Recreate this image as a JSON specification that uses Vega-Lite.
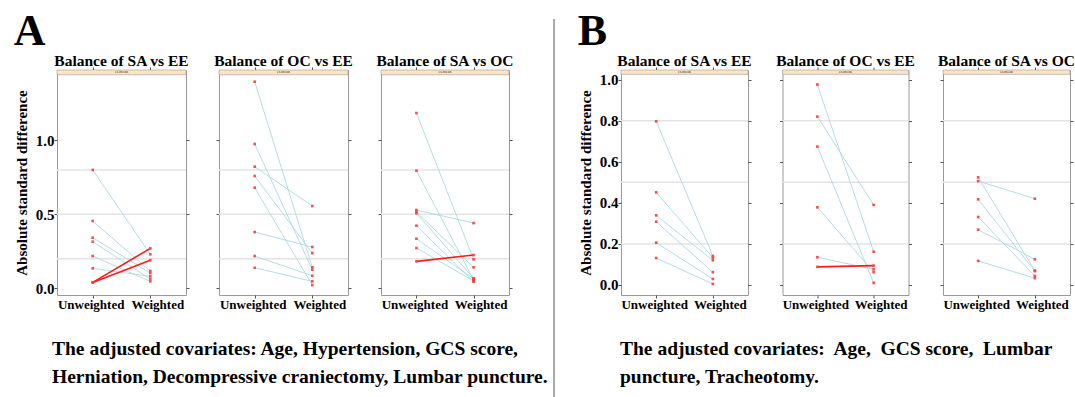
{
  "$schema": "https://vega.github.io/schema/vega-lite/v6.json",
  "background": "white",
  "padding": {"left": 13, "top": 9, "right": 0, "bottom": 0},
  "config": {
    "font": "Liberation Serif",
    "view": {"stroke": "#9a9a9a", "strokeWidth": 1},
    "style": {"guide-label": {"font": "Liberation Serif", "fontWeight": "bold"}, "guide-title": {"font": "Liberation Serif", "fontWeight": "bold"}},
    "axis": {"domain": false, "grid": false, "minExtent": 0, "tickColor": "#555555", "tickSize": 3, "labelFont": "Liberation Serif", "labelFontWeight": "bold", "labelFontSize": 15, "labelColor": "#000000", "titleFont": "Liberation Serif", "titleFontWeight": "bold", "titleFontSize": 15, "titleColor": "#000000"},
    "title": {"font": "Liberation Serif", "fontWeight": "bold", "color": "#000000"}
  },
  "datasets": {
    "asd": [
      {"panel": "A1", "covariate": "Age", "weighting": "Unweighted", "asd": 0.80, "trend": "decreased"},
      {"panel": "A1", "covariate": "Age", "weighting": "Weighted", "asd": 0.23, "trend": "decreased"},
      {"panel": "A1", "covariate": "Hypertension", "weighting": "Unweighted", "asd": 0.455, "trend": "decreased"},
      {"panel": "A1", "covariate": "Hypertension", "weighting": "Weighted", "asd": 0.117, "trend": "decreased"},
      {"panel": "A1", "covariate": "GCS 3-8", "weighting": "Unweighted", "asd": 0.342, "trend": "decreased"},
      {"panel": "A1", "covariate": "GCS 3-8", "weighting": "Weighted", "asd": 0.103, "trend": "decreased"},
      {"panel": "A1", "covariate": "GCS 9-12", "weighting": "Unweighted", "asd": 0.315, "trend": "decreased"},
      {"panel": "A1", "covariate": "GCS 9-12", "weighting": "Weighted", "asd": 0.063, "trend": "decreased"},
      {"panel": "A1", "covariate": "GCS 13-15", "weighting": "Unweighted", "asd": 0.218, "trend": "decreased"},
      {"panel": "A1", "covariate": "GCS 13-15", "weighting": "Weighted", "asd": 0.047, "trend": "decreased"},
      {"panel": "A1", "covariate": "Herniation", "weighting": "Unweighted", "asd": 0.135, "trend": "decreased"},
      {"panel": "A1", "covariate": "Herniation", "weighting": "Weighted", "asd": 0.081, "trend": "decreased"},
      {"panel": "A1", "covariate": "Decompressive craniectomy", "weighting": "Unweighted", "asd": 0.04, "trend": "increased"},
      {"panel": "A1", "covariate": "Decompressive craniectomy", "weighting": "Weighted", "asd": 0.27, "trend": "increased"},
      {"panel": "A1", "covariate": "Lumbar puncture", "weighting": "Unweighted", "asd": 0.04, "trend": "increased"},
      {"panel": "A1", "covariate": "Lumbar puncture", "weighting": "Weighted", "asd": 0.19, "trend": "increased"},

      {"panel": "A2", "covariate": "Age", "weighting": "Unweighted", "asd": 1.396, "trend": "decreased"},
      {"panel": "A2", "covariate": "Age", "weighting": "Weighted", "asd": 0.142, "trend": "decreased"},
      {"panel": "A2", "covariate": "Hypertension", "weighting": "Unweighted", "asd": 0.975, "trend": "decreased"},
      {"panel": "A2", "covariate": "Hypertension", "weighting": "Weighted", "asd": 0.126, "trend": "decreased"},
      {"panel": "A2", "covariate": "GCS 3-8", "weighting": "Unweighted", "asd": 0.822, "trend": "decreased"},
      {"panel": "A2", "covariate": "GCS 3-8", "weighting": "Weighted", "asd": 0.556, "trend": "decreased"},
      {"panel": "A2", "covariate": "GCS 9-12", "weighting": "Unweighted", "asd": 0.759, "trend": "decreased"},
      {"panel": "A2", "covariate": "GCS 9-12", "weighting": "Weighted", "asd": 0.238, "trend": "decreased"},
      {"panel": "A2", "covariate": "GCS 13-15", "weighting": "Unweighted", "asd": 0.68, "trend": "decreased"},
      {"panel": "A2", "covariate": "GCS 13-15", "weighting": "Weighted", "asd": 0.022, "trend": "decreased"},
      {"panel": "A2", "covariate": "Herniation", "weighting": "Unweighted", "asd": 0.38, "trend": "decreased"},
      {"panel": "A2", "covariate": "Herniation", "weighting": "Weighted", "asd": 0.279, "trend": "decreased"},
      {"panel": "A2", "covariate": "Decompressive craniectomy", "weighting": "Unweighted", "asd": 0.218, "trend": "decreased"},
      {"panel": "A2", "covariate": "Decompressive craniectomy", "weighting": "Weighted", "asd": 0.085, "trend": "decreased"},
      {"panel": "A2", "covariate": "Lumbar puncture", "weighting": "Unweighted", "asd": 0.139, "trend": "decreased"},
      {"panel": "A2", "covariate": "Lumbar puncture", "weighting": "Weighted", "asd": 0.047, "trend": "decreased"},

      {"panel": "A3", "covariate": "Age", "weighting": "Unweighted", "asd": 1.184, "trend": "decreased"},
      {"panel": "A3", "covariate": "Age", "weighting": "Weighted", "asd": 0.196, "trend": "decreased"},
      {"panel": "A3", "covariate": "Hypertension", "weighting": "Unweighted", "asd": 0.795, "trend": "decreased"},
      {"panel": "A3", "covariate": "Hypertension", "weighting": "Weighted", "asd": 0.058, "trend": "decreased"},
      {"panel": "A3", "covariate": "GCS 3-8", "weighting": "Unweighted", "asd": 0.529, "trend": "decreased"},
      {"panel": "A3", "covariate": "GCS 3-8", "weighting": "Weighted", "asd": 0.441, "trend": "decreased"},
      {"panel": "A3", "covariate": "GCS 9-12", "weighting": "Unweighted", "asd": 0.516, "trend": "decreased"},
      {"panel": "A3", "covariate": "GCS 9-12", "weighting": "Weighted", "asd": 0.142, "trend": "decreased"},
      {"panel": "A3", "covariate": "GCS 13-15", "weighting": "Unweighted", "asd": 0.507, "trend": "decreased"},
      {"panel": "A3", "covariate": "GCS 13-15", "weighting": "Weighted", "asd": 0.068, "trend": "decreased"},
      {"panel": "A3", "covariate": "Herniation", "weighting": "Unweighted", "asd": 0.423, "trend": "decreased"},
      {"panel": "A3", "covariate": "Herniation", "weighting": "Weighted", "asd": 0.045, "trend": "decreased"},
      {"panel": "A3", "covariate": "Decompressive craniectomy", "weighting": "Unweighted", "asd": 0.335, "trend": "decreased"},
      {"panel": "A3", "covariate": "Decompressive craniectomy", "weighting": "Weighted", "asd": 0.065, "trend": "decreased"},
      {"panel": "A3", "covariate": "Lumbar puncture", "weighting": "Unweighted", "asd": 0.272, "trend": "decreased"},
      {"panel": "A3", "covariate": "Lumbar puncture", "weighting": "Weighted", "asd": 0.05, "trend": "decreased"},
      {"panel": "A3", "covariate": "Sex", "weighting": "Unweighted", "asd": 0.182, "trend": "increased"},
      {"panel": "A3", "covariate": "Sex", "weighting": "Weighted", "asd": 0.225, "trend": "increased"},

      {"panel": "B1", "covariate": "Age", "weighting": "Unweighted", "asd": 0.797, "trend": "decreased"},
      {"panel": "B1", "covariate": "Age", "weighting": "Weighted", "asd": 0.141, "trend": "decreased"},
      {"panel": "B1", "covariate": "GCS 3-8", "weighting": "Unweighted", "asd": 0.451, "trend": "decreased"},
      {"panel": "B1", "covariate": "GCS 3-8", "weighting": "Weighted", "asd": 0.133, "trend": "decreased"},
      {"panel": "B1", "covariate": "GCS 9-12", "weighting": "Unweighted", "asd": 0.339, "trend": "decreased"},
      {"panel": "B1", "covariate": "GCS 9-12", "weighting": "Weighted", "asd": 0.12, "trend": "decreased"},
      {"panel": "B1", "covariate": "GCS 13-15", "weighting": "Unweighted", "asd": 0.308, "trend": "decreased"},
      {"panel": "B1", "covariate": "GCS 13-15", "weighting": "Weighted", "asd": 0.062, "trend": "decreased"},
      {"panel": "B1", "covariate": "Lumbar puncture", "weighting": "Unweighted", "asd": 0.206, "trend": "decreased"},
      {"panel": "B1", "covariate": "Lumbar puncture", "weighting": "Weighted", "asd": 0.029, "trend": "decreased"},
      {"panel": "B1", "covariate": "Tracheotomy", "weighting": "Unweighted", "asd": 0.131, "trend": "decreased"},
      {"panel": "B1", "covariate": "Tracheotomy", "weighting": "Weighted", "asd": 0.005, "trend": "decreased"},

      {"panel": "B2", "covariate": "Age", "weighting": "Unweighted", "asd": 0.976, "trend": "decreased"},
      {"panel": "B2", "covariate": "Age", "weighting": "Weighted", "asd": 0.162, "trend": "decreased"},
      {"panel": "B2", "covariate": "GCS 3-8", "weighting": "Unweighted", "asd": 0.82, "trend": "decreased"},
      {"panel": "B2", "covariate": "GCS 3-8", "weighting": "Weighted", "asd": 0.39, "trend": "decreased"},
      {"panel": "B2", "covariate": "GCS 9-12", "weighting": "Unweighted", "asd": 0.674, "trend": "decreased"},
      {"panel": "B2", "covariate": "GCS 9-12", "weighting": "Weighted", "asd": 0.01, "trend": "decreased"},
      {"panel": "B2", "covariate": "GCS 13-15", "weighting": "Unweighted", "asd": 0.378, "trend": "decreased"},
      {"panel": "B2", "covariate": "GCS 13-15", "weighting": "Weighted", "asd": 0.062, "trend": "decreased"},
      {"panel": "B2", "covariate": "Lumbar puncture", "weighting": "Unweighted", "asd": 0.135, "trend": "decreased"},
      {"panel": "B2", "covariate": "Lumbar puncture", "weighting": "Weighted", "asd": 0.076, "trend": "decreased"},
      {"panel": "B2", "covariate": "Tracheotomy", "weighting": "Unweighted", "asd": 0.088, "trend": "increased"},
      {"panel": "B2", "covariate": "Tracheotomy", "weighting": "Weighted", "asd": 0.094, "trend": "increased"},

      {"panel": "B3", "covariate": "Age", "weighting": "Unweighted", "asd": 0.524, "trend": "decreased"},
      {"panel": "B3", "covariate": "Age", "weighting": "Weighted", "asd": 0.07, "trend": "decreased"},
      {"panel": "B3", "covariate": "GCS 3-8", "weighting": "Unweighted", "asd": 0.506, "trend": "decreased"},
      {"panel": "B3", "covariate": "GCS 3-8", "weighting": "Weighted", "asd": 0.42, "trend": "decreased"},
      {"panel": "B3", "covariate": "GCS 9-12", "weighting": "Unweighted", "asd": 0.417, "trend": "decreased"},
      {"panel": "B3", "covariate": "GCS 9-12", "weighting": "Weighted", "asd": 0.067, "trend": "decreased"},
      {"panel": "B3", "covariate": "GCS 13-15", "weighting": "Unweighted", "asd": 0.331, "trend": "decreased"},
      {"panel": "B3", "covariate": "GCS 13-15", "weighting": "Weighted", "asd": 0.044, "trend": "decreased"},
      {"panel": "B3", "covariate": "Lumbar puncture", "weighting": "Unweighted", "asd": 0.269, "trend": "decreased"},
      {"panel": "B3", "covariate": "Lumbar puncture", "weighting": "Weighted", "asd": 0.125, "trend": "decreased"},
      {"panel": "B3", "covariate": "Tracheotomy", "weighting": "Unweighted", "asd": 0.117, "trend": "decreased"},
      {"panel": "B3", "covariate": "Tracheotomy", "weighting": "Weighted", "asd": 0.033, "trend": "decreased"}
    ],
    "refs": [{"ref": 0.2}, {"ref": 0.5}, {"ref": 0.8}],
    "strip": [{"label": "es.mean"}]
  },
  "hconcat": [
    {
      "title": {"text": "A", "anchor": "start", "fontSize": 44, "offset": 0},
      "vconcat": [
        {
          "title": {"text": ["The adjusted covariates: Age, Hypertension, GCS score,", "Herniation, Decompressive craniectomy, Lumbar puncture."], "orient": "bottom", "anchor": "start", "frame": "group", "fontSize": 19.5, "lineHeight": 28, "offset": 28, "dx": -5},
          "spacing": 33,
          "bounds": "flush",
          "hconcat": [
            {
              "width": 129, "height": 225,
              "title": {"text": "Balance of SA vs EE", "fontSize": 15.5, "baseline": "alphabetic", "offset": -15},
              "layer": [
                {"data": {"name": "strip"}, "mark": {"type": "rect", "fill": "#FFE4C4", "stroke": "#9a9a9a", "strokeWidth": 0.6}, "encoding": {"y": {"datum": 1.443, "type": "quantitative", "scale": {"domain": [-0.045, 1.475], "nice": false, "zero": false}, "axis": null}, "y2": {"datum": 1.475}}},
                {"data": {"name": "strip"}, "mark": {"type": "text", "fontSize": 4, "color": "#333333"}, "encoding": {"y": {"datum": 1.459, "type": "quantitative", "axis": null}, "text": {"field": "label"}}},
                {"data": {"name": "refs"}, "mark": {"type": "rule", "color": "#e4e4e4", "strokeWidth": 1.5}, "encoding": {"y": {"field": "ref", "type": "quantitative", "axis": null}}},
                {"data": {"name": "asd"}, "transform": [{"filter": "datum.panel === 'A1'"}], "mark": {"type": "line"},
                 "encoding": {
                   "x": {"field": "weighting", "type": "nominal", "scale": {"type": "point", "padding": 0.62, "domain": ["Unweighted", "Weighted"]}, "axis": {"orient": "bottom", "title": null, "labelAngle": 0, "labelFontSize": 13, "labelPadding": 0, "labelOffset": {"condition": {"test": "datum.value === 'Weighted'", "value": 7}, "value": -2}}},
                   "y": {"field": "asd", "type": "quantitative", "axis": {"orient": "right", "labels": false, "title": null, "values": [0, 0.5, 1]}},
                   "detail": {"field": "covariate"},
                   "order": {"field": "trend"},
                   "color": {"field": "trend", "type": "nominal", "scale": {"domain": ["decreased", "increased"], "range": ["#add8e6", "#ff1a1a"]}, "legend": null},
                   "strokeWidth": {"field": "trend", "type": "nominal", "scale": {"domain": ["decreased", "increased"], "range": [0.9, 1.6]}, "legend": null}
                 }},
                {"data": {"name": "asd"}, "transform": [{"filter": "datum.panel === 'A1'"}], "mark": {"type": "point", "shape": "square", "filled": true, "size": 7, "color": "#ff3b3b", "opacity": 0.9},
                 "encoding": {
                   "x": {"field": "weighting", "type": "nominal", "axis": {"orient": "top", "labels": false, "title": null, "labelPadding": 0}},
                   "y": {"field": "asd", "type": "quantitative", "axis": {"orient": "left", "values": [0, 0.5, 1], "format": ".1f", "title": "Absolute standard difference", "labelPadding": 0, "titlePadding": 6}}
                 }}
              ],
              "resolve": {"axis": {"x": "independent", "y": "independent"}}
            },
            {
              "width": 129, "height": 225,
              "title": {"text": "Balance of OC vs EE", "fontSize": 15.5, "baseline": "alphabetic", "offset": -15},
              "layer": [
                {"data": {"name": "strip"}, "mark": {"type": "rect", "fill": "#FFE4C4", "stroke": "#9a9a9a", "strokeWidth": 0.6}, "encoding": {"y": {"datum": 1.443, "type": "quantitative", "scale": {"domain": [-0.045, 1.475], "nice": false, "zero": false}, "axis": null}, "y2": {"datum": 1.475}}},
                {"data": {"name": "strip"}, "mark": {"type": "text", "fontSize": 4, "color": "#333333"}, "encoding": {"y": {"datum": 1.459, "type": "quantitative", "axis": null}, "text": {"field": "label"}}},
                {"data": {"name": "refs"}, "mark": {"type": "rule", "color": "#e4e4e4", "strokeWidth": 1.5}, "encoding": {"y": {"field": "ref", "type": "quantitative", "axis": null}}},
                {"data": {"name": "asd"}, "transform": [{"filter": "datum.panel === 'A2'"}], "mark": {"type": "line"},
                 "encoding": {
                   "x": {"field": "weighting", "type": "nominal", "scale": {"type": "point", "padding": 0.62, "domain": ["Unweighted", "Weighted"]}, "axis": {"orient": "bottom", "title": null, "labelAngle": 0, "labelFontSize": 13, "labelPadding": 0, "labelOffset": {"condition": {"test": "datum.value === 'Weighted'", "value": 7}, "value": -2}}},
                   "y": {"field": "asd", "type": "quantitative", "axis": {"orient": "right", "labels": false, "title": null, "values": [0, 0.5, 1]}},
                   "detail": {"field": "covariate"},
                   "order": {"field": "trend"},
                   "color": {"field": "trend", "type": "nominal", "scale": {"domain": ["decreased", "increased"], "range": ["#add8e6", "#ff1a1a"]}, "legend": null},
                   "strokeWidth": {"field": "trend", "type": "nominal", "scale": {"domain": ["decreased", "increased"], "range": [0.9, 1.6]}, "legend": null}
                 }},
                {"data": {"name": "asd"}, "transform": [{"filter": "datum.panel === 'A2'"}], "mark": {"type": "point", "shape": "square", "filled": true, "size": 7, "color": "#ff3b3b", "opacity": 0.9},
                 "encoding": {
                   "x": {"field": "weighting", "type": "nominal", "axis": {"orient": "top", "labels": false, "title": null, "labelPadding": 0}},
                   "y": {"field": "asd", "type": "quantitative", "axis": {"orient": "left", "values": [0, 0.5, 1], "labels": false, "title": null}}
                 }}
              ],
              "resolve": {"axis": {"x": "independent", "y": "independent"}}
            },
            {
              "width": 128, "height": 225,
              "title": {"text": "Balance of SA vs OC", "fontSize": 15.5, "baseline": "alphabetic", "offset": -15},
              "layer": [
                {"data": {"name": "strip"}, "mark": {"type": "rect", "fill": "#FFE4C4", "stroke": "#9a9a9a", "strokeWidth": 0.6}, "encoding": {"y": {"datum": 1.443, "type": "quantitative", "scale": {"domain": [-0.045, 1.475], "nice": false, "zero": false}, "axis": null}, "y2": {"datum": 1.475}}},
                {"data": {"name": "strip"}, "mark": {"type": "text", "fontSize": 4, "color": "#333333"}, "encoding": {"y": {"datum": 1.459, "type": "quantitative", "axis": null}, "text": {"field": "label"}}},
                {"data": {"name": "refs"}, "mark": {"type": "rule", "color": "#e4e4e4", "strokeWidth": 1.5}, "encoding": {"y": {"field": "ref", "type": "quantitative", "axis": null}}},
                {"data": {"name": "asd"}, "transform": [{"filter": "datum.panel === 'A3'"}], "mark": {"type": "line"},
                 "encoding": {
                   "x": {"field": "weighting", "type": "nominal", "scale": {"type": "point", "padding": 0.62, "domain": ["Unweighted", "Weighted"]}, "axis": {"orient": "bottom", "title": null, "labelAngle": 0, "labelFontSize": 13, "labelPadding": 0, "labelOffset": {"condition": {"test": "datum.value === 'Weighted'", "value": 7}, "value": -2}}},
                   "y": {"field": "asd", "type": "quantitative", "axis": {"orient": "right", "labels": false, "title": null, "values": [0, 0.5, 1]}},
                   "detail": {"field": "covariate"},
                   "order": {"field": "trend"},
                   "color": {"field": "trend", "type": "nominal", "scale": {"domain": ["decreased", "increased"], "range": ["#add8e6", "#ff1a1a"]}, "legend": null},
                   "strokeWidth": {"field": "trend", "type": "nominal", "scale": {"domain": ["decreased", "increased"], "range": [0.9, 1.6]}, "legend": null}
                 }},
                {"data": {"name": "asd"}, "transform": [{"filter": "datum.panel === 'A3'"}], "mark": {"type": "point", "shape": "square", "filled": true, "size": 7, "color": "#ff3b3b", "opacity": 0.9},
                 "encoding": {
                   "x": {"field": "weighting", "type": "nominal", "axis": {"orient": "top", "labels": false, "title": null, "labelPadding": 0}},
                   "y": {"field": "asd", "type": "quantitative", "axis": {"orient": "left", "values": [0, 0.5, 1], "labels": false, "title": null}}
                 }}
              ],
              "resolve": {"axis": {"x": "independent", "y": "independent"}}
            }
          ]
        }
      ]
    },
    {
      "width": 18, "height": 327,
      "view": {"stroke": null},
      "data": {"values": [{"divider": "A | B"}]},
      "mark": {"type": "rule", "color": "#555555", "strokeWidth": 1, "clip": false},
      "encoding": {
        "x": {"datum": 0, "type": "quantitative", "scale": {"domain": [0, 1]}, "axis": null},
        "y": {"datum": 0, "type": "quantitative", "scale": {"domain": [0, 1]}, "axis": null},
        "y2": {"datum": 1.156}
      }
    },
    {
      "title": {"text": "B", "anchor": "start", "fontSize": 44, "offset": 0},
      "vconcat": [
        {
          "title": {"text": ["The adjusted covariates:\u00a0 Age,\u00a0 GCS score,\u00a0 Lumbar", "puncture, Tracheotomy."], "orient": "bottom", "anchor": "start", "frame": "group", "fontSize": 19.5, "lineHeight": 28, "offset": 28, "dx": -1},
          "spacing": 34.5,
          "bounds": "flush",
          "hconcat": [
            {
              "width": 127, "height": 225,
              "title": {"text": "Balance of SA vs EE", "fontSize": 15.5, "baseline": "alphabetic", "offset": -15},
              "layer": [
                {"data": {"name": "strip"}, "mark": {"type": "rect", "fill": "#FFE4C4", "stroke": "#9a9a9a", "strokeWidth": 0.6}, "encoding": {"y": {"datum": 1.026, "type": "quantitative", "scale": {"domain": [-0.049, 1.047], "nice": false, "zero": false}, "axis": null}, "y2": {"datum": 1.047}}},
                {"data": {"name": "strip"}, "mark": {"type": "text", "fontSize": 4, "color": "#333333"}, "encoding": {"y": {"datum": 1.036, "type": "quantitative", "axis": null}, "text": {"field": "label"}}},
                {"data": {"name": "refs"}, "mark": {"type": "rule", "color": "#e4e4e4", "strokeWidth": 1.5}, "encoding": {"y": {"field": "ref", "type": "quantitative", "axis": null}}},
                {"data": {"name": "asd"}, "transform": [{"filter": "datum.panel === 'B1'"}], "mark": {"type": "line"},
                 "encoding": {
                   "x": {"field": "weighting", "type": "nominal", "scale": {"type": "point", "padding": 0.62, "domain": ["Unweighted", "Weighted"]}, "axis": {"orient": "bottom", "title": null, "labelAngle": 0, "labelFontSize": 13, "labelPadding": 0, "labelOffset": {"condition": {"test": "datum.value === 'Weighted'", "value": 7}, "value": -2}}},
                   "y": {"field": "asd", "type": "quantitative", "axis": {"orient": "right", "labels": false, "title": null, "values": [0, 0.2, 0.4, 0.6, 0.8, 1]}},
                   "detail": {"field": "covariate"},
                   "order": {"field": "trend"},
                   "color": {"field": "trend", "type": "nominal", "scale": {"domain": ["decreased", "increased"], "range": ["#add8e6", "#ff1a1a"]}, "legend": null},
                   "strokeWidth": {"field": "trend", "type": "nominal", "scale": {"domain": ["decreased", "increased"], "range": [0.9, 1.6]}, "legend": null}
                 }},
                {"data": {"name": "asd"}, "transform": [{"filter": "datum.panel === 'B1'"}], "mark": {"type": "point", "shape": "square", "filled": true, "size": 7, "color": "#ff3b3b", "opacity": 0.9},
                 "encoding": {
                   "x": {"field": "weighting", "type": "nominal", "axis": {"orient": "top", "labels": false, "title": null, "labelPadding": 0}},
                   "y": {"field": "asd", "type": "quantitative", "axis": {"orient": "left", "values": [0, 0.2, 0.4, 0.6, 0.8, 1], "format": ".1f", "title": "Absolute standard difference", "labelPadding": 0, "titlePadding": 6}}
                 }}
              ],
              "resolve": {"axis": {"x": "independent", "y": "independent"}}
            },
            {
              "width": 126, "height": 225,
              "title": {"text": "Balance of OC vs EE", "fontSize": 15.5, "baseline": "alphabetic", "offset": -15},
              "layer": [
                {"data": {"name": "strip"}, "mark": {"type": "rect", "fill": "#FFE4C4", "stroke": "#9a9a9a", "strokeWidth": 0.6}, "encoding": {"y": {"datum": 1.026, "type": "quantitative", "scale": {"domain": [-0.049, 1.047], "nice": false, "zero": false}, "axis": null}, "y2": {"datum": 1.047}}},
                {"data": {"name": "strip"}, "mark": {"type": "text", "fontSize": 4, "color": "#333333"}, "encoding": {"y": {"datum": 1.036, "type": "quantitative", "axis": null}, "text": {"field": "label"}}},
                {"data": {"name": "refs"}, "mark": {"type": "rule", "color": "#e4e4e4", "strokeWidth": 1.5}, "encoding": {"y": {"field": "ref", "type": "quantitative", "axis": null}}},
                {"data": {"name": "asd"}, "transform": [{"filter": "datum.panel === 'B2'"}], "mark": {"type": "line"},
                 "encoding": {
                   "x": {"field": "weighting", "type": "nominal", "scale": {"type": "point", "padding": 0.62, "domain": ["Unweighted", "Weighted"]}, "axis": {"orient": "bottom", "title": null, "labelAngle": 0, "labelFontSize": 13, "labelPadding": 0, "labelOffset": {"condition": {"test": "datum.value === 'Weighted'", "value": 7}, "value": -2}}},
                   "y": {"field": "asd", "type": "quantitative", "axis": {"orient": "right", "labels": false, "title": null, "values": [0, 0.2, 0.4, 0.6, 0.8, 1]}},
                   "detail": {"field": "covariate"},
                   "order": {"field": "trend"},
                   "color": {"field": "trend", "type": "nominal", "scale": {"domain": ["decreased", "increased"], "range": ["#add8e6", "#ff1a1a"]}, "legend": null},
                   "strokeWidth": {"field": "trend", "type": "nominal", "scale": {"domain": ["decreased", "increased"], "range": [0.9, 1.6]}, "legend": null}
                 }},
                {"data": {"name": "asd"}, "transform": [{"filter": "datum.panel === 'B2'"}], "mark": {"type": "point", "shape": "square", "filled": true, "size": 7, "color": "#ff3b3b", "opacity": 0.9},
                 "encoding": {
                   "x": {"field": "weighting", "type": "nominal", "axis": {"orient": "top", "labels": false, "title": null, "labelPadding": 0}},
                   "y": {"field": "asd", "type": "quantitative", "axis": {"orient": "left", "values": [0, 0.2, 0.4, 0.6, 0.8, 1], "labels": false, "title": null}}
                 }}
              ],
              "resolve": {"axis": {"x": "independent", "y": "independent"}}
            },
            {
              "width": 127, "height": 225,
              "title": {"text": "Balance of SA vs OC", "fontSize": 15.5, "baseline": "alphabetic", "offset": -15},
              "layer": [
                {"data": {"name": "strip"}, "mark": {"type": "rect", "fill": "#FFE4C4", "stroke": "#9a9a9a", "strokeWidth": 0.6}, "encoding": {"y": {"datum": 1.026, "type": "quantitative", "scale": {"domain": [-0.049, 1.047], "nice": false, "zero": false}, "axis": null}, "y2": {"datum": 1.047}}},
                {"data": {"name": "strip"}, "mark": {"type": "text", "fontSize": 4, "color": "#333333"}, "encoding": {"y": {"datum": 1.036, "type": "quantitative", "axis": null}, "text": {"field": "label"}}},
                {"data": {"name": "refs"}, "mark": {"type": "rule", "color": "#e4e4e4", "strokeWidth": 1.5}, "encoding": {"y": {"field": "ref", "type": "quantitative", "axis": null}}},
                {"data": {"name": "asd"}, "transform": [{"filter": "datum.panel === 'B3'"}], "mark": {"type": "line"},
                 "encoding": {
                   "x": {"field": "weighting", "type": "nominal", "scale": {"type": "point", "padding": 0.62, "domain": ["Unweighted", "Weighted"]}, "axis": {"orient": "bottom", "title": null, "labelAngle": 0, "labelFontSize": 13, "labelPadding": 0, "labelOffset": {"condition": {"test": "datum.value === 'Weighted'", "value": 7}, "value": -2}}},
                   "y": {"field": "asd", "type": "quantitative", "axis": {"orient": "right", "labels": false, "title": null, "values": [0, 0.2, 0.4, 0.6, 0.8, 1]}},
                   "detail": {"field": "covariate"},
                   "order": {"field": "trend"},
                   "color": {"field": "trend", "type": "nominal", "scale": {"domain": ["decreased", "increased"], "range": ["#add8e6", "#ff1a1a"]}, "legend": null},
                   "strokeWidth": {"field": "trend", "type": "nominal", "scale": {"domain": ["decreased", "increased"], "range": [0.9, 1.6]}, "legend": null}
                 }},
                {"data": {"name": "asd"}, "transform": [{"filter": "datum.panel === 'B3'"}], "mark": {"type": "point", "shape": "square", "filled": true, "size": 7, "color": "#ff3b3b", "opacity": 0.9},
                 "encoding": {
                   "x": {"field": "weighting", "type": "nominal", "axis": {"orient": "top", "labels": false, "title": null, "labelPadding": 0}},
                   "y": {"field": "asd", "type": "quantitative", "axis": {"orient": "left", "values": [0, 0.2, 0.4, 0.6, 0.8, 1], "labels": false, "title": null}}
                 }}
              ],
              "resolve": {"axis": {"x": "independent", "y": "independent"}}
            }
          ]
        }
      ]
    }
  ],
  "spacing": 5
}
